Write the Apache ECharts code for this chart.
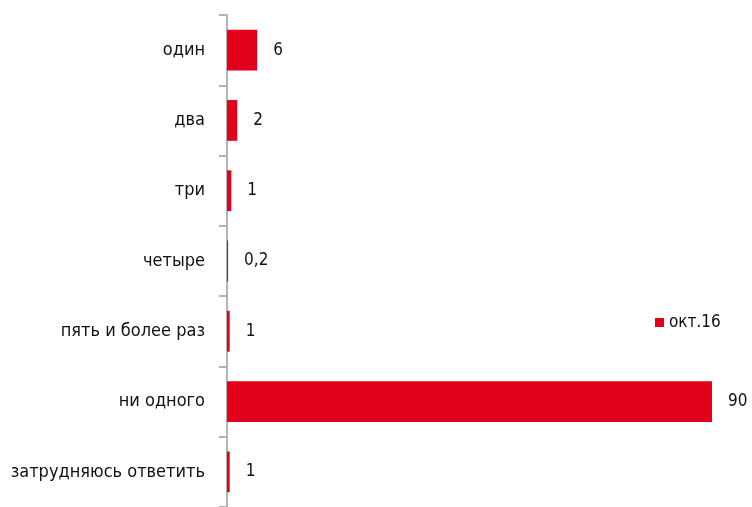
<!DOCTYPE html>
<html><head><meta charset="utf-8">
<script src="https://cdn.jsdelivr.net/npm/echarts@6/dist/echarts.min.js"></script>
<style>html,body{margin:0;padding:0;background:#fff}#c{width:752px;height:507px}</style>
</head><body><div id="c"></div>
<script>
const categories = ['один','два','три','четыре','пять и более раз','ни одного','затрудняюсь ответить'];
const values = [5.6, 1.9, 0.8, 0.2, 0.5, 90, 0.5];
const valueLabels = ['6','2','1','0,2','1','90','1'];
const seriesName = 'окт.16';

const FONT = '"Liberation Sans Narrow", "DejaVu Sans Condensed", sans-serif';
const chart = echarts.init(document.getElementById('c'), null, {renderer:'canvas'});
chart.setOption({
  animation:false,
  textStyle:{fontFamily:FONT},
  legend:{
    data:[seriesName], left:650, top:309, itemWidth:9, itemHeight:9, itemGap:5,
    icon:'rect', textStyle:{fontFamily:FONT, fontSize:17, color:'#111'}
  },
  grid:{left:227, right:40, top:15, bottom:-6, containLabel:false},
  xAxis:{type:'value', min:0, max:90, show:false},
  yAxis:{
    type:'category', data:categories, inverse:true,
    axisLine:{show:true, lineStyle:{color:'#b4b4b4', width:2}},
    axisTick:{show:true, length:8, lineStyle:{color:'#b4b4b4', width:2}},
    axisLabel:{fontFamily:FONT, fontSize:18, color:'#111', margin:22, padding:[4,0,0,0]}
  },
  series:[{
    name:seriesName, type:'bar', data:values, barCategoryGap:'42%',
    itemStyle:{color:'#e2001a'},
    label:{show:true, position:'right', distance:16, fontFamily:FONT, fontSize:17, color:'#111',
      formatter:p=>valueLabels[p.dataIndex]}
  }]
});
</script></body></html>
